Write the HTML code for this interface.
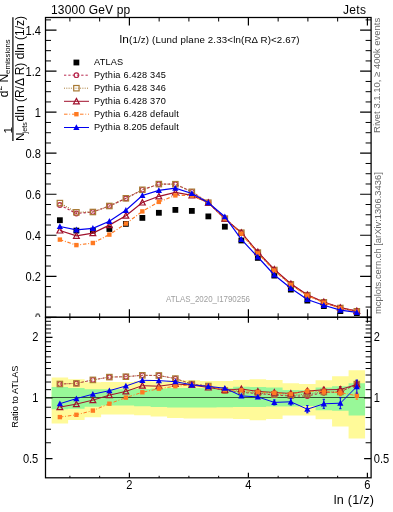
<!DOCTYPE html><html><head><meta charset="utf-8"><style>html,body{margin:0;padding:0;background:#fff;overflow:hidden}svg{display:block;will-change:transform;font-family:"Liberation Sans",sans-serif}</style></head><body><svg width="393" height="512" viewBox="0 0 393 512" >
<rect x="0" y="0" width="393" height="512" fill="#fff"/>
<defs><clipPath id="cm"><rect x="45.5" y="17.5" width="325.5" height="299.8"/></clipPath><clipPath id="cr"><rect x="45.5" y="317.3" width="325.5" height="160.5"/></clipPath></defs>
<text x="166" y="301.8" font-size="9" fill="#a0a0a0" textLength="84" lengthAdjust="spacingAndGlyphs">ATLAS_2020_I1790256</text>
<g clip-path="url(#cm)">
<rect x="56.98" y="217.30" width="5.8" height="5.8" fill="#000"/>
<rect x="73.48" y="227.70" width="5.8" height="5.8" fill="#000"/>
<rect x="89.97" y="227.70" width="5.8" height="5.8" fill="#000"/>
<rect x="106.47" y="226.10" width="5.8" height="5.8" fill="#000"/>
<rect x="122.97" y="221.00" width="5.8" height="5.8" fill="#000"/>
<rect x="139.46" y="215.00" width="5.8" height="5.8" fill="#000"/>
<rect x="155.96" y="209.90" width="5.8" height="5.8" fill="#000"/>
<rect x="172.46" y="207.00" width="5.8" height="5.8" fill="#000"/>
<rect x="188.95" y="208.00" width="5.8" height="5.8" fill="#000"/>
<rect x="205.45" y="213.50" width="5.8" height="5.8" fill="#000"/>
<rect x="221.95" y="223.80" width="5.8" height="5.8" fill="#000"/>
<rect x="238.45" y="237.60" width="5.8" height="5.8" fill="#000"/>
<rect x="254.94" y="255.00" width="5.8" height="5.8" fill="#000"/>
<rect x="271.44" y="272.70" width="5.8" height="5.8" fill="#000"/>
<rect x="287.94" y="286.70" width="5.8" height="5.8" fill="#000"/>
<rect x="304.43" y="297.70" width="5.8" height="5.8" fill="#000"/>
<rect x="320.93" y="303.20" width="5.8" height="5.8" fill="#000"/>
<rect x="337.43" y="308.20" width="5.8" height="5.8" fill="#000"/>
<rect x="353.92" y="310.20" width="5.8" height="5.8" fill="#000"/>
<polyline points="59.88,205.00 76.38,213.50 92.87,212.00 109.37,206.00 125.87,198.40 142.36,189.80 158.86,184.10 175.36,184.20 191.85,191.80 208.35,202.70 224.85,218.60 241.35,232.70 257.84,252.60 274.34,270.00 290.84,284.30 307.33,295.20 323.83,302.30 340.33,308.00 356.82,311.30" fill="none" stroke="#b8284e" stroke-width="1.2" stroke-dasharray="2.3,2"/>
<circle cx="59.88" cy="205.00" r="2.3" fill="none" stroke="#b8284e" stroke-width="1.2"/>
<circle cx="76.38" cy="213.50" r="2.3" fill="none" stroke="#b8284e" stroke-width="1.2"/>
<circle cx="92.87" cy="212.00" r="2.3" fill="none" stroke="#b8284e" stroke-width="1.2"/>
<circle cx="109.37" cy="206.00" r="2.3" fill="none" stroke="#b8284e" stroke-width="1.2"/>
<circle cx="125.87" cy="198.40" r="2.3" fill="none" stroke="#b8284e" stroke-width="1.2"/>
<circle cx="142.36" cy="189.80" r="2.3" fill="none" stroke="#b8284e" stroke-width="1.2"/>
<circle cx="158.86" cy="184.10" r="2.3" fill="none" stroke="#b8284e" stroke-width="1.2"/>
<circle cx="175.36" cy="184.20" r="2.3" fill="none" stroke="#b8284e" stroke-width="1.2"/>
<circle cx="191.85" cy="191.80" r="2.3" fill="none" stroke="#b8284e" stroke-width="1.2"/>
<circle cx="208.35" cy="202.70" r="2.3" fill="none" stroke="#b8284e" stroke-width="1.2"/>
<circle cx="224.85" cy="218.60" r="2.3" fill="none" stroke="#b8284e" stroke-width="1.2"/>
<circle cx="241.35" cy="232.70" r="2.3" fill="none" stroke="#b8284e" stroke-width="1.2"/>
<circle cx="257.84" cy="252.60" r="2.3" fill="none" stroke="#b8284e" stroke-width="1.2"/>
<circle cx="274.34" cy="270.00" r="2.3" fill="none" stroke="#b8284e" stroke-width="1.2"/>
<circle cx="290.84" cy="284.30" r="2.3" fill="none" stroke="#b8284e" stroke-width="1.2"/>
<circle cx="307.33" cy="295.20" r="2.3" fill="none" stroke="#b8284e" stroke-width="1.2"/>
<circle cx="323.83" cy="302.30" r="2.3" fill="none" stroke="#b8284e" stroke-width="1.2"/>
<circle cx="340.33" cy="308.00" r="2.3" fill="none" stroke="#b8284e" stroke-width="1.2"/>
<circle cx="356.82" cy="311.30" r="2.3" fill="none" stroke="#b8284e" stroke-width="1.2"/>
<polyline points="59.88,203.10 76.38,212.30 92.87,212.00 109.37,206.00 125.87,198.30 142.36,189.80 158.86,184.10 175.36,184.20 191.85,191.80 208.35,202.70 224.85,218.60 241.35,232.70 257.84,252.60 274.34,270.00 290.84,284.30 307.33,295.20 323.83,302.30 340.33,308.00 356.82,311.30" fill="none" stroke="#a87a35" stroke-width="1.2" stroke-dasharray="1,1.3"/>
<rect x="57.18" y="200.40" width="5.4" height="5.4" fill="none" stroke="#a87a35" stroke-width="1.2"/>
<rect x="73.68" y="209.60" width="5.4" height="5.4" fill="none" stroke="#a87a35" stroke-width="1.2"/>
<rect x="90.17" y="209.30" width="5.4" height="5.4" fill="none" stroke="#a87a35" stroke-width="1.2"/>
<rect x="106.67" y="203.30" width="5.4" height="5.4" fill="none" stroke="#a87a35" stroke-width="1.2"/>
<rect x="123.17" y="195.60" width="5.4" height="5.4" fill="none" stroke="#a87a35" stroke-width="1.2"/>
<rect x="139.66" y="187.10" width="5.4" height="5.4" fill="none" stroke="#a87a35" stroke-width="1.2"/>
<rect x="156.16" y="181.40" width="5.4" height="5.4" fill="none" stroke="#a87a35" stroke-width="1.2"/>
<rect x="172.66" y="181.50" width="5.4" height="5.4" fill="none" stroke="#a87a35" stroke-width="1.2"/>
<rect x="189.15" y="189.10" width="5.4" height="5.4" fill="none" stroke="#a87a35" stroke-width="1.2"/>
<rect x="205.65" y="200.00" width="5.4" height="5.4" fill="none" stroke="#a87a35" stroke-width="1.2"/>
<rect x="222.15" y="215.90" width="5.4" height="5.4" fill="none" stroke="#a87a35" stroke-width="1.2"/>
<rect x="238.65" y="230.00" width="5.4" height="5.4" fill="none" stroke="#a87a35" stroke-width="1.2"/>
<rect x="255.14" y="249.90" width="5.4" height="5.4" fill="none" stroke="#a87a35" stroke-width="1.2"/>
<rect x="271.64" y="267.30" width="5.4" height="5.4" fill="none" stroke="#a87a35" stroke-width="1.2"/>
<rect x="288.14" y="281.60" width="5.4" height="5.4" fill="none" stroke="#a87a35" stroke-width="1.2"/>
<rect x="304.63" y="292.50" width="5.4" height="5.4" fill="none" stroke="#a87a35" stroke-width="1.2"/>
<rect x="321.13" y="299.60" width="5.4" height="5.4" fill="none" stroke="#a87a35" stroke-width="1.2"/>
<rect x="337.63" y="305.30" width="5.4" height="5.4" fill="none" stroke="#a87a35" stroke-width="1.2"/>
<rect x="354.12" y="308.60" width="5.4" height="5.4" fill="none" stroke="#a87a35" stroke-width="1.2"/>
<polyline points="59.88,230.50 76.38,235.80 92.87,233.10 109.37,225.10 125.87,215.70 142.36,202.50 158.86,196.30 175.36,192.30 191.85,195.40 208.35,202.70 224.85,218.60 241.35,232.70 257.84,252.00 274.34,269.50 290.84,283.80 307.33,294.80 323.83,302.00 340.33,307.60 356.82,311.00" fill="none" stroke="#a0102c" stroke-width="1.2"/>
<path d="M59.88,227.60 L62.78,233.00 L56.98,233.00Z" fill="none" stroke="#a0102c" stroke-width="1.2"/>
<path d="M76.38,232.90 L79.28,238.30 L73.48,238.30Z" fill="none" stroke="#a0102c" stroke-width="1.2"/>
<path d="M92.87,230.20 L95.77,235.60 L89.97,235.60Z" fill="none" stroke="#a0102c" stroke-width="1.2"/>
<path d="M109.37,222.20 L112.27,227.60 L106.47,227.60Z" fill="none" stroke="#a0102c" stroke-width="1.2"/>
<path d="M125.87,212.80 L128.77,218.20 L122.97,218.20Z" fill="none" stroke="#a0102c" stroke-width="1.2"/>
<path d="M142.36,199.60 L145.26,205.00 L139.46,205.00Z" fill="none" stroke="#a0102c" stroke-width="1.2"/>
<path d="M158.86,193.40 L161.76,198.80 L155.96,198.80Z" fill="none" stroke="#a0102c" stroke-width="1.2"/>
<path d="M175.36,189.40 L178.26,194.80 L172.46,194.80Z" fill="none" stroke="#a0102c" stroke-width="1.2"/>
<path d="M191.85,192.50 L194.75,197.90 L188.95,197.90Z" fill="none" stroke="#a0102c" stroke-width="1.2"/>
<path d="M208.35,199.80 L211.25,205.20 L205.45,205.20Z" fill="none" stroke="#a0102c" stroke-width="1.2"/>
<path d="M224.85,215.70 L227.75,221.10 L221.95,221.10Z" fill="none" stroke="#a0102c" stroke-width="1.2"/>
<path d="M241.35,229.80 L244.25,235.20 L238.45,235.20Z" fill="none" stroke="#a0102c" stroke-width="1.2"/>
<path d="M257.84,249.10 L260.74,254.50 L254.94,254.50Z" fill="none" stroke="#a0102c" stroke-width="1.2"/>
<path d="M274.34,266.60 L277.24,272.00 L271.44,272.00Z" fill="none" stroke="#a0102c" stroke-width="1.2"/>
<path d="M290.84,280.90 L293.74,286.30 L287.94,286.30Z" fill="none" stroke="#a0102c" stroke-width="1.2"/>
<path d="M307.33,291.90 L310.23,297.30 L304.43,297.30Z" fill="none" stroke="#a0102c" stroke-width="1.2"/>
<path d="M323.83,299.10 L326.73,304.50 L320.93,304.50Z" fill="none" stroke="#a0102c" stroke-width="1.2"/>
<path d="M340.33,304.70 L343.23,310.10 L337.43,310.10Z" fill="none" stroke="#a0102c" stroke-width="1.2"/>
<path d="M356.82,308.10 L359.72,313.50 L353.92,313.50Z" fill="none" stroke="#a0102c" stroke-width="1.2"/>
<polyline points="59.88,239.60 76.38,245.10 92.87,243.00 109.37,234.60 125.87,223.60 142.36,211.40 158.86,201.90 175.36,195.40 191.85,195.50 208.35,202.70 224.85,218.60 241.35,233.70 257.84,253.40 274.34,270.60 290.84,284.80 307.33,295.60 323.83,302.70 340.33,308.30 356.82,311.50" fill="none" stroke="#ff7a22" stroke-width="1.2" stroke-dasharray="3.5,1.8,0.9,1.8"/>
<rect x="57.68" y="237.40" width="4.4" height="4.4" fill="#ff7a22"/>
<rect x="74.18" y="242.90" width="4.4" height="4.4" fill="#ff7a22"/>
<rect x="90.67" y="240.80" width="4.4" height="4.4" fill="#ff7a22"/>
<rect x="107.17" y="232.40" width="4.4" height="4.4" fill="#ff7a22"/>
<rect x="123.67" y="221.40" width="4.4" height="4.4" fill="#ff7a22"/>
<rect x="140.16" y="209.20" width="4.4" height="4.4" fill="#ff7a22"/>
<rect x="156.66" y="199.70" width="4.4" height="4.4" fill="#ff7a22"/>
<rect x="173.16" y="193.20" width="4.4" height="4.4" fill="#ff7a22"/>
<rect x="189.65" y="193.30" width="4.4" height="4.4" fill="#ff7a22"/>
<rect x="206.15" y="200.50" width="4.4" height="4.4" fill="#ff7a22"/>
<rect x="222.65" y="216.40" width="4.4" height="4.4" fill="#ff7a22"/>
<rect x="239.15" y="231.50" width="4.4" height="4.4" fill="#ff7a22"/>
<rect x="255.64" y="251.20" width="4.4" height="4.4" fill="#ff7a22"/>
<rect x="272.14" y="268.40" width="4.4" height="4.4" fill="#ff7a22"/>
<rect x="288.64" y="282.60" width="4.4" height="4.4" fill="#ff7a22"/>
<rect x="305.13" y="293.40" width="4.4" height="4.4" fill="#ff7a22"/>
<rect x="321.63" y="300.50" width="4.4" height="4.4" fill="#ff7a22"/>
<rect x="338.13" y="306.10" width="4.4" height="4.4" fill="#ff7a22"/>
<rect x="354.62" y="309.30" width="4.4" height="4.4" fill="#ff7a22"/>
<polyline points="59.88,226.50 76.38,229.80 92.87,228.30 109.37,221.30 125.87,210.30 142.36,195.50 158.86,190.40 175.36,188.20 191.85,193.50 208.35,202.70 224.85,216.70 241.35,239.30 257.84,257.00 274.34,275.00 290.84,288.30 307.33,299.50 323.83,305.30 340.33,310.20 356.82,312.30" fill="none" stroke="#0000f0" stroke-width="1.2"/>
<path d="M59.88,223.30 L62.98,229.10 L56.78,229.10Z" fill="#0000f0"/>
<path d="M76.38,226.60 L79.48,232.40 L73.28,232.40Z" fill="#0000f0"/>
<path d="M92.87,225.10 L95.97,230.90 L89.77,230.90Z" fill="#0000f0"/>
<path d="M109.37,218.10 L112.47,223.90 L106.27,223.90Z" fill="#0000f0"/>
<path d="M125.87,207.10 L128.97,212.90 L122.77,212.90Z" fill="#0000f0"/>
<path d="M142.36,192.30 L145.46,198.10 L139.26,198.10Z" fill="#0000f0"/>
<path d="M158.86,187.20 L161.96,193.00 L155.76,193.00Z" fill="#0000f0"/>
<path d="M175.36,185.00 L178.46,190.80 L172.26,190.80Z" fill="#0000f0"/>
<path d="M191.85,190.30 L194.95,196.10 L188.75,196.10Z" fill="#0000f0"/>
<path d="M208.35,199.50 L211.45,205.30 L205.25,205.30Z" fill="#0000f0"/>
<path d="M224.85,213.50 L227.95,219.30 L221.75,219.30Z" fill="#0000f0"/>
<path d="M241.35,236.10 L244.45,241.90 L238.25,241.90Z" fill="#0000f0"/>
<path d="M257.84,253.80 L260.94,259.60 L254.74,259.60Z" fill="#0000f0"/>
<path d="M274.34,271.80 L277.44,277.60 L271.24,277.60Z" fill="#0000f0"/>
<path d="M290.84,285.10 L293.94,290.90 L287.74,290.90Z" fill="#0000f0"/>
<path d="M307.33,296.30 L310.43,302.10 L304.23,302.10Z" fill="#0000f0"/>
<path d="M323.83,302.10 L326.93,307.90 L320.73,307.90Z" fill="#0000f0"/>
<path d="M340.33,307.00 L343.43,312.80 L337.23,312.80Z" fill="#0000f0"/>
<path d="M356.82,309.10 L359.92,314.90 L353.72,314.90Z" fill="#0000f0"/>
</g>
<rect x="45.5" y="317.3" width="325.5" height="160.5" fill="#fff"/>
<g clip-path="url(#cr)">
<path d="M51.63,377.50H68.13V379.20H84.62V382.20H101.12V382.00H117.62V382.00H134.12V381.00H150.61V381.50H167.11V380.50H183.61V380.30H200.10V381.00H216.60V381.00H233.10V380.00H249.59V379.30H266.09V380.00H282.59V383.30H299.08V383.90H315.58V380.20H332.08V376.30H348.58V370.30H365.07V438.40H348.58V426.40H332.08V419.30H315.58V415.40H299.08V415.40H282.59V419.00H266.09V420.20H249.59V419.00H233.10V418.40H216.60V418.40H200.10V418.40H183.61V418.10H167.11V416.40H150.61V415.20H134.12V414.40H117.62V414.60H101.12V417.20H84.62V420.00H68.13V423.40H51.63Z" fill="#fffa99"/>
<path d="M51.63,387.10H68.13V387.90H84.62V389.30H101.12V389.30H117.62V389.30H134.12V389.10H150.61V388.50H167.11V388.00H183.61V387.90H200.10V388.30H216.60V388.30H233.10V386.70H249.59V387.00H266.09V387.50H282.59V390.00H299.08V390.30H315.58V387.60H332.08V386.20H348.58V383.30H365.07V415.60H348.58V410.70H332.08V410.20H315.58V406.00H299.08V406.40H282.59V406.40H266.09V407.00H249.59V407.00H233.10V407.20H216.60V407.40H200.10V407.40H183.61V407.50H167.11V406.90H150.61V406.30H134.12V405.60H117.62V405.60H101.12V406.70H84.62V408.70H68.13V409.30H51.63Z" fill="#98f898"/>
<line x1="45.5" y1="397.5" x2="371" y2="397.5" stroke="#355535" stroke-width="1"/>
<path d="M274.34,394.00V396.00M273.14,394.00H275.54M273.14,396.00H275.54M290.84,394.50V397.50M289.64,394.50H292.04M289.64,397.50H292.04M307.33,394.00V398.00M306.13,394.00H308.53M306.13,398.00H308.53M323.83,390.00V395.00M322.63,390.00H325.03M322.63,395.00H325.03M340.33,389.00V395.00M339.13,389.00H341.53M339.13,395.00H341.53M356.82,380.60V387.60M355.62,380.60H358.02M355.62,387.60H358.02" stroke="#b8284e" stroke-width="1" fill="none"/>
<polyline points="59.88,384.00 76.38,383.40 92.87,379.90 109.37,377.10 125.87,376.70 142.36,375.30 158.86,375.50 175.36,378.60 191.85,384.00 208.35,386.00 224.85,390.90 241.35,392.50 257.84,393.50 274.34,395.00 290.84,396.00 307.33,396.00 323.83,392.50 340.33,392.00 356.82,384.10" fill="none" stroke="#b8284e" stroke-width="1.0" stroke-dasharray="2.3,2"/>
<circle cx="59.88" cy="384.00" r="2.3" fill="none" stroke="#b8284e" stroke-width="1.2"/>
<circle cx="76.38" cy="383.40" r="2.3" fill="none" stroke="#b8284e" stroke-width="1.2"/>
<circle cx="92.87" cy="379.90" r="2.3" fill="none" stroke="#b8284e" stroke-width="1.2"/>
<circle cx="109.37" cy="377.10" r="2.3" fill="none" stroke="#b8284e" stroke-width="1.2"/>
<circle cx="125.87" cy="376.70" r="2.3" fill="none" stroke="#b8284e" stroke-width="1.2"/>
<circle cx="142.36" cy="375.30" r="2.3" fill="none" stroke="#b8284e" stroke-width="1.2"/>
<circle cx="158.86" cy="375.50" r="2.3" fill="none" stroke="#b8284e" stroke-width="1.2"/>
<circle cx="175.36" cy="378.60" r="2.3" fill="none" stroke="#b8284e" stroke-width="1.2"/>
<circle cx="191.85" cy="384.00" r="2.3" fill="none" stroke="#b8284e" stroke-width="1.2"/>
<circle cx="208.35" cy="386.00" r="2.3" fill="none" stroke="#b8284e" stroke-width="1.2"/>
<circle cx="224.85" cy="390.90" r="2.3" fill="none" stroke="#b8284e" stroke-width="1.2"/>
<circle cx="241.35" cy="392.50" r="2.3" fill="none" stroke="#b8284e" stroke-width="1.2"/>
<circle cx="257.84" cy="393.50" r="2.3" fill="none" stroke="#b8284e" stroke-width="1.2"/>
<circle cx="274.34" cy="395.00" r="2.3" fill="none" stroke="#b8284e" stroke-width="1.2"/>
<circle cx="290.84" cy="396.00" r="2.3" fill="none" stroke="#b8284e" stroke-width="1.2"/>
<circle cx="307.33" cy="396.00" r="2.3" fill="none" stroke="#b8284e" stroke-width="1.2"/>
<circle cx="323.83" cy="392.50" r="2.3" fill="none" stroke="#b8284e" stroke-width="1.2"/>
<circle cx="340.33" cy="392.00" r="2.3" fill="none" stroke="#b8284e" stroke-width="1.2"/>
<circle cx="356.82" cy="384.10" r="2.3" fill="none" stroke="#b8284e" stroke-width="1.2"/>
<path d="M274.34,393.50V395.50M273.14,393.50H275.54M273.14,395.50H275.54M290.84,394.00V397.00M289.64,394.00H292.04M289.64,397.00H292.04M307.33,392.00V396.00M306.13,392.00H308.53M306.13,396.00H308.53M323.83,389.50V394.50M322.63,389.50H325.03M322.63,394.50H325.03M340.33,389.00V395.00M339.13,389.00H341.53M339.13,395.00H341.53M356.82,380.60V387.60M355.62,380.60H358.02M355.62,387.60H358.02" stroke="#a87a35" stroke-width="1" fill="none"/>
<polyline points="59.88,384.00 76.38,383.40 92.87,379.90 109.37,377.10 125.87,376.70 142.36,375.30 158.86,375.50 175.36,378.60 191.85,384.00 208.35,386.00 224.85,390.50 241.35,392.00 257.84,393.00 274.34,394.50 290.84,395.50 307.33,394.00 323.83,392.00 340.33,392.00 356.82,384.10" fill="none" stroke="#a87a35" stroke-width="1.0" stroke-dasharray="1,1.3"/>
<rect x="57.18" y="381.30" width="5.4" height="5.4" fill="none" stroke="#a87a35" stroke-width="1.2"/>
<rect x="73.68" y="380.70" width="5.4" height="5.4" fill="none" stroke="#a87a35" stroke-width="1.2"/>
<rect x="90.17" y="377.20" width="5.4" height="5.4" fill="none" stroke="#a87a35" stroke-width="1.2"/>
<rect x="106.67" y="374.40" width="5.4" height="5.4" fill="none" stroke="#a87a35" stroke-width="1.2"/>
<rect x="123.17" y="374.00" width="5.4" height="5.4" fill="none" stroke="#a87a35" stroke-width="1.2"/>
<rect x="139.66" y="372.60" width="5.4" height="5.4" fill="none" stroke="#a87a35" stroke-width="1.2"/>
<rect x="156.16" y="372.80" width="5.4" height="5.4" fill="none" stroke="#a87a35" stroke-width="1.2"/>
<rect x="172.66" y="375.90" width="5.4" height="5.4" fill="none" stroke="#a87a35" stroke-width="1.2"/>
<rect x="189.15" y="381.30" width="5.4" height="5.4" fill="none" stroke="#a87a35" stroke-width="1.2"/>
<rect x="205.65" y="383.30" width="5.4" height="5.4" fill="none" stroke="#a87a35" stroke-width="1.2"/>
<rect x="222.15" y="387.80" width="5.4" height="5.4" fill="none" stroke="#a87a35" stroke-width="1.2"/>
<rect x="238.65" y="389.30" width="5.4" height="5.4" fill="none" stroke="#a87a35" stroke-width="1.2"/>
<rect x="255.14" y="390.30" width="5.4" height="5.4" fill="none" stroke="#a87a35" stroke-width="1.2"/>
<rect x="271.64" y="391.80" width="5.4" height="5.4" fill="none" stroke="#a87a35" stroke-width="1.2"/>
<rect x="288.14" y="392.80" width="5.4" height="5.4" fill="none" stroke="#a87a35" stroke-width="1.2"/>
<rect x="304.63" y="391.30" width="5.4" height="5.4" fill="none" stroke="#a87a35" stroke-width="1.2"/>
<rect x="321.13" y="389.30" width="5.4" height="5.4" fill="none" stroke="#a87a35" stroke-width="1.2"/>
<rect x="337.63" y="389.30" width="5.4" height="5.4" fill="none" stroke="#a87a35" stroke-width="1.2"/>
<rect x="354.12" y="381.40" width="5.4" height="5.4" fill="none" stroke="#a87a35" stroke-width="1.2"/>
<path d="M274.34,391.50V393.50M273.14,391.50H275.54M273.14,393.50H275.54M290.84,392.00V395.00M289.64,392.00H292.04M289.64,395.00H292.04M307.33,389.00V393.00M306.13,389.00H308.53M306.13,393.00H308.53M323.83,387.30V392.30M322.63,387.30H325.03M322.63,392.30H325.03M340.33,386.50V392.50M339.13,386.50H341.53M339.13,392.50H341.53M356.82,381.00V388.00M355.62,381.00H358.02M355.62,388.00H358.02" stroke="#a0102c" stroke-width="1" fill="none"/>
<polyline points="59.88,407.10 76.38,404.10 92.87,400.10 109.37,395.20 125.87,391.40 142.36,385.70 158.86,386.20 175.36,384.00 191.85,385.00 208.35,387.50 224.85,390.00 241.35,389.00 257.84,391.40 274.34,392.50 290.84,393.50 307.33,391.00 323.83,389.80 340.33,389.50 356.82,384.50" fill="none" stroke="#a0102c" stroke-width="1.0"/>
<path d="M59.88,404.20 L62.78,409.60 L56.98,409.60Z" fill="none" stroke="#a0102c" stroke-width="1.2"/>
<path d="M76.38,401.20 L79.28,406.60 L73.48,406.60Z" fill="none" stroke="#a0102c" stroke-width="1.2"/>
<path d="M92.87,397.20 L95.77,402.60 L89.97,402.60Z" fill="none" stroke="#a0102c" stroke-width="1.2"/>
<path d="M109.37,392.30 L112.27,397.70 L106.47,397.70Z" fill="none" stroke="#a0102c" stroke-width="1.2"/>
<path d="M125.87,388.50 L128.77,393.90 L122.97,393.90Z" fill="none" stroke="#a0102c" stroke-width="1.2"/>
<path d="M142.36,382.80 L145.26,388.20 L139.46,388.20Z" fill="none" stroke="#a0102c" stroke-width="1.2"/>
<path d="M158.86,383.30 L161.76,388.70 L155.96,388.70Z" fill="none" stroke="#a0102c" stroke-width="1.2"/>
<path d="M175.36,381.10 L178.26,386.50 L172.46,386.50Z" fill="none" stroke="#a0102c" stroke-width="1.2"/>
<path d="M191.85,382.10 L194.75,387.50 L188.95,387.50Z" fill="none" stroke="#a0102c" stroke-width="1.2"/>
<path d="M208.35,384.60 L211.25,390.00 L205.45,390.00Z" fill="none" stroke="#a0102c" stroke-width="1.2"/>
<path d="M224.85,387.10 L227.75,392.50 L221.95,392.50Z" fill="none" stroke="#a0102c" stroke-width="1.2"/>
<path d="M241.35,386.10 L244.25,391.50 L238.45,391.50Z" fill="none" stroke="#a0102c" stroke-width="1.2"/>
<path d="M257.84,388.50 L260.74,393.90 L254.94,393.90Z" fill="none" stroke="#a0102c" stroke-width="1.2"/>
<path d="M274.34,389.60 L277.24,395.00 L271.44,395.00Z" fill="none" stroke="#a0102c" stroke-width="1.2"/>
<path d="M290.84,390.60 L293.74,396.00 L287.94,396.00Z" fill="none" stroke="#a0102c" stroke-width="1.2"/>
<path d="M307.33,388.10 L310.23,393.50 L304.43,393.50Z" fill="none" stroke="#a0102c" stroke-width="1.2"/>
<path d="M323.83,386.90 L326.73,392.30 L320.93,392.30Z" fill="none" stroke="#a0102c" stroke-width="1.2"/>
<path d="M340.33,386.60 L343.23,392.00 L337.43,392.00Z" fill="none" stroke="#a0102c" stroke-width="1.2"/>
<path d="M356.82,381.60 L359.72,387.00 L353.92,387.00Z" fill="none" stroke="#a0102c" stroke-width="1.2"/>
<path d="M274.34,391.80V393.80M273.14,391.80H275.54M273.14,393.80H275.54M290.84,392.50V395.50M289.64,392.50H292.04M289.64,395.50H292.04M307.33,389.10V393.10M306.13,389.10H308.53M306.13,393.10H308.53M323.83,389.10V394.10M322.63,389.10H325.03M322.63,394.10H325.03M340.33,389.70V395.70M339.13,389.70H341.53M339.13,395.70H341.53M356.82,392.20V399.20M355.62,392.20H358.02M355.62,399.20H358.02" stroke="#ff7a22" stroke-width="1" fill="none"/>
<polyline points="59.88,417.10 76.38,414.80 92.87,410.60 109.37,403.70 125.87,397.60 142.36,392.30 158.86,388.70 175.36,386.20 191.85,385.00 208.35,386.00 224.85,390.20 241.35,390.30 257.84,392.00 274.34,392.80 290.84,394.00 307.33,391.10 323.83,391.60 340.33,392.70 356.82,395.70" fill="none" stroke="#ff7a22" stroke-width="1.0" stroke-dasharray="3.5,1.8,0.9,1.8"/>
<rect x="57.68" y="414.90" width="4.4" height="4.4" fill="#ff7a22"/>
<rect x="74.18" y="412.60" width="4.4" height="4.4" fill="#ff7a22"/>
<rect x="90.67" y="408.40" width="4.4" height="4.4" fill="#ff7a22"/>
<rect x="107.17" y="401.50" width="4.4" height="4.4" fill="#ff7a22"/>
<rect x="123.67" y="395.40" width="4.4" height="4.4" fill="#ff7a22"/>
<rect x="140.16" y="390.10" width="4.4" height="4.4" fill="#ff7a22"/>
<rect x="156.66" y="386.50" width="4.4" height="4.4" fill="#ff7a22"/>
<rect x="173.16" y="384.00" width="4.4" height="4.4" fill="#ff7a22"/>
<rect x="189.65" y="382.80" width="4.4" height="4.4" fill="#ff7a22"/>
<rect x="206.15" y="383.80" width="4.4" height="4.4" fill="#ff7a22"/>
<rect x="222.65" y="388.00" width="4.4" height="4.4" fill="#ff7a22"/>
<rect x="239.15" y="388.10" width="4.4" height="4.4" fill="#ff7a22"/>
<rect x="255.64" y="389.80" width="4.4" height="4.4" fill="#ff7a22"/>
<rect x="272.14" y="390.60" width="4.4" height="4.4" fill="#ff7a22"/>
<rect x="288.64" y="391.80" width="4.4" height="4.4" fill="#ff7a22"/>
<rect x="305.13" y="388.90" width="4.4" height="4.4" fill="#ff7a22"/>
<rect x="321.63" y="389.40" width="4.4" height="4.4" fill="#ff7a22"/>
<rect x="338.13" y="390.50" width="4.4" height="4.4" fill="#ff7a22"/>
<rect x="354.62" y="393.50" width="4.4" height="4.4" fill="#ff7a22"/>
<path d="M274.34,399.90V404.90M273.14,399.90H275.54M273.14,404.90H275.54M290.84,398.60V405.00M289.64,398.60H292.04M289.64,405.00H292.04M307.33,405.60V412.80M306.13,405.60H308.53M306.13,412.80H308.53M323.83,399.30V408.30M322.63,399.30H325.03M322.63,408.30H325.03M340.33,397.70V408.70M339.13,397.70H341.53M339.13,408.70H341.53M356.82,380.00V393.20M355.62,380.00H358.02M355.62,393.20H358.02" stroke="#0000f0" stroke-width="1" fill="none"/>
<polyline points="59.88,403.70 76.38,398.60 92.87,394.20 109.37,390.70 125.87,386.00 142.36,380.30 158.86,380.60 175.36,381.70 191.85,384.80 208.35,386.40 224.85,388.20 241.35,395.90 257.84,396.90 274.34,402.40 290.84,401.80 307.33,409.20 323.83,403.80 340.33,403.20 356.82,386.60" fill="none" stroke="#0000f0" stroke-width="1.0"/>
<path d="M59.88,400.50 L62.98,406.30 L56.78,406.30Z" fill="#0000f0"/>
<path d="M76.38,395.40 L79.48,401.20 L73.28,401.20Z" fill="#0000f0"/>
<path d="M92.87,391.00 L95.97,396.80 L89.77,396.80Z" fill="#0000f0"/>
<path d="M109.37,387.50 L112.47,393.30 L106.27,393.30Z" fill="#0000f0"/>
<path d="M125.87,382.80 L128.97,388.60 L122.77,388.60Z" fill="#0000f0"/>
<path d="M142.36,377.10 L145.46,382.90 L139.26,382.90Z" fill="#0000f0"/>
<path d="M158.86,377.40 L161.96,383.20 L155.76,383.20Z" fill="#0000f0"/>
<path d="M175.36,378.50 L178.46,384.30 L172.26,384.30Z" fill="#0000f0"/>
<path d="M191.85,381.60 L194.95,387.40 L188.75,387.40Z" fill="#0000f0"/>
<path d="M208.35,383.20 L211.45,389.00 L205.25,389.00Z" fill="#0000f0"/>
<path d="M224.85,385.00 L227.95,390.80 L221.75,390.80Z" fill="#0000f0"/>
<path d="M241.35,392.70 L244.45,398.50 L238.25,398.50Z" fill="#0000f0"/>
<path d="M257.84,393.70 L260.94,399.50 L254.74,399.50Z" fill="#0000f0"/>
<path d="M274.34,399.20 L277.44,405.00 L271.24,405.00Z" fill="#0000f0"/>
<path d="M290.84,398.60 L293.94,404.40 L287.74,404.40Z" fill="#0000f0"/>
<path d="M307.33,406.00 L310.43,411.80 L304.23,411.80Z" fill="#0000f0"/>
<path d="M323.83,400.60 L326.93,406.40 L320.73,406.40Z" fill="#0000f0"/>
<path d="M340.33,400.00 L343.43,405.80 L337.23,405.80Z" fill="#0000f0"/>
<path d="M356.82,383.40 L359.92,389.20 L353.72,389.20Z" fill="#0000f0"/>
</g>
<path d="M45.50,317.30L56.50,317.30 M371.10,317.30L360.10,317.30 M45.50,276.28L56.50,276.28 M371.10,276.28L360.10,276.28 M45.50,235.26L56.50,235.26 M371.10,235.26L360.10,235.26 M45.50,194.24L56.50,194.24 M371.10,194.24L360.10,194.24 M45.50,153.22L56.50,153.22 M371.10,153.22L360.10,153.22 M45.50,112.20L56.50,112.20 M371.10,112.20L360.10,112.20 M45.50,71.18L56.50,71.18 M371.10,71.18L360.10,71.18 M45.50,30.16L56.50,30.16 M371.10,30.16L360.10,30.16 M129.40,17.50L129.40,25.50 M129.40,317.30L129.40,309.30 M248.40,17.50L248.40,25.50 M248.40,317.30L248.40,309.30 M367.40,17.50L367.40,25.50 M367.40,317.30L367.40,309.30 M45.50,458.72L52.50,458.72 M371.10,458.72L364.10,458.72 M45.50,398.00L52.50,398.00 M371.10,398.00L364.10,398.00 M45.50,337.28L52.50,337.28 M371.10,337.28L364.10,337.28 M129.40,317.30L129.40,322.80 M129.40,477.80L129.40,472.80 M248.40,317.30L248.40,322.80 M248.40,477.80L248.40,472.80 M367.40,317.30L367.40,322.80 M367.40,477.80L367.40,472.80" stroke="#000" stroke-width="1.2" fill="none"/>
<path d="M45.50,307.05L51.00,307.05 M371.10,307.05L365.60,307.05 M45.50,296.79L51.00,296.79 M371.10,296.79L365.60,296.79 M45.50,286.54L51.00,286.54 M371.10,286.54L365.60,286.54 M45.50,266.03L51.00,266.03 M371.10,266.03L365.60,266.03 M45.50,255.77L51.00,255.77 M371.10,255.77L365.60,255.77 M45.50,245.51L51.00,245.51 M371.10,245.51L365.60,245.51 M45.50,225.00L51.00,225.00 M371.10,225.00L365.60,225.00 M45.50,214.75L51.00,214.75 M371.10,214.75L365.60,214.75 M45.50,204.50L51.00,204.50 M371.10,204.50L365.60,204.50 M45.50,183.99L51.00,183.99 M371.10,183.99L365.60,183.99 M45.50,173.73L51.00,173.73 M371.10,173.73L365.60,173.73 M45.50,163.48L51.00,163.48 M371.10,163.48L365.60,163.48 M45.50,142.97L51.00,142.97 M371.10,142.97L365.60,142.97 M45.50,132.71L51.00,132.71 M371.10,132.71L365.60,132.71 M45.50,122.46L51.00,122.46 M371.10,122.46L365.60,122.46 M45.50,101.95L51.00,101.95 M371.10,101.95L365.60,101.95 M45.50,91.69L51.00,91.69 M371.10,91.69L365.60,91.69 M45.50,81.44L51.00,81.44 M371.10,81.44L365.60,81.44 M45.50,60.93L51.00,60.93 M371.10,60.93L365.60,60.93 M45.50,50.67L51.00,50.67 M371.10,50.67L365.60,50.67 M45.50,40.42L51.00,40.42 M371.10,40.42L365.60,40.42 M45.50,19.90L51.00,19.90 M371.10,19.90L365.60,19.90 M69.90,17.50L69.90,21.50 M69.90,317.30L69.90,313.30 M99.65,17.50L99.65,21.50 M99.65,317.30L99.65,313.30 M159.15,17.50L159.15,21.50 M159.15,317.30L159.15,313.30 M188.90,17.50L188.90,21.50 M188.90,317.30L188.90,313.30 M218.65,17.50L218.65,21.50 M218.65,317.30L218.65,313.30 M278.15,17.50L278.15,21.50 M278.15,317.30L278.15,313.30 M307.90,17.50L307.90,21.50 M307.90,317.30L307.90,313.30 M337.65,17.50L337.65,21.50 M337.65,317.30L337.65,313.30 M45.50,442.75L51.00,442.75 M371.10,442.75L365.60,442.75 M45.50,429.24L51.00,429.24 M371.10,429.24L365.60,429.24 M45.50,417.55L51.00,417.55 M371.10,417.55L365.60,417.55 M45.50,407.23L51.00,407.23 M371.10,407.23L365.60,407.23 M45.50,389.65L51.00,389.65 M371.10,389.65L365.60,389.65 M45.50,382.03L51.00,382.03 M371.10,382.03L365.60,382.03 M45.50,375.02L51.00,375.02 M371.10,375.02L365.60,375.02 M45.50,368.53L51.00,368.53 M371.10,368.53L365.60,368.53 M45.50,362.48L51.00,362.48 M371.10,362.48L365.60,362.48 M45.50,356.83L51.00,356.83 M371.10,356.83L365.60,356.83 M45.50,351.52L51.00,351.52 M371.10,351.52L365.60,351.52 M45.50,346.51L51.00,346.51 M371.10,346.51L365.60,346.51 M45.50,341.78L51.00,341.78 M371.10,341.78L365.60,341.78 M45.50,333.01L51.00,333.01 M371.10,333.01L365.60,333.01 M45.50,328.93L51.00,328.93 M371.10,328.93L365.60,328.93 M45.50,325.04L51.00,325.04 M371.10,325.04L365.60,325.04 M45.50,321.31L51.00,321.31 M371.10,321.31L365.60,321.31 M45.50,317.74L51.00,317.74 M371.10,317.74L365.60,317.74 M69.90,317.30L69.90,319.80 M69.90,477.80L69.90,475.80 M99.65,317.30L99.65,319.80 M99.65,477.80L99.65,475.80 M159.15,317.30L159.15,319.80 M159.15,477.80L159.15,475.80 M188.90,317.30L188.90,319.80 M188.90,477.80L188.90,475.80 M218.65,317.30L218.65,319.80 M218.65,477.80L218.65,475.80 M278.15,317.30L278.15,319.80 M278.15,477.80L278.15,475.80 M307.90,317.30L307.90,319.80 M307.90,477.80L307.90,475.80 M337.65,317.30L337.65,319.80 M337.65,477.80L337.65,475.80" stroke="#000" stroke-width="1.0" fill="none"/>
<rect x="45.5" y="17.5" width="325.6" height="299.8" fill="none" stroke="#000" stroke-width="1.25"/>
<rect x="45.5" y="317.3" width="325.6" height="160.5" fill="none" stroke="#000" stroke-width="1.25"/>
<text transform="translate(40.90,281.48) scale(0.86,1)" font-size="12.9" text-anchor="end">0.2</text>
<text transform="translate(40.90,240.46) scale(0.86,1)" font-size="12.9" text-anchor="end">0.4</text>
<text transform="translate(40.90,199.44) scale(0.86,1)" font-size="12.9" text-anchor="end">0.6</text>
<text transform="translate(40.90,158.42) scale(0.86,1)" font-size="12.9" text-anchor="end">0.8</text>
<text transform="translate(40.90,117.40) scale(0.86,1)" font-size="12.9" text-anchor="end">1</text>
<text transform="translate(40.90,76.38) scale(0.86,1)" font-size="12.9" text-anchor="end">1.2</text>
<text transform="translate(40.90,35.36) scale(0.86,1)" font-size="12.9" text-anchor="end">1.4</text>
<svg x="0" y="0" width="393" height="317"><text transform="translate(40.90,322.50) scale(0.86,1)" font-size="12.9" text-anchor="end">0</text></svg>
<text transform="translate(38.30,341.08) scale(0.86,1)" font-size="12.9" text-anchor="end">2</text>
<text transform="translate(373.80,341.08) scale(0.86,1)" font-size="12.9" text-anchor="start">2</text>
<text transform="translate(38.30,401.80) scale(0.86,1)" font-size="12.9" text-anchor="end">1</text>
<text transform="translate(373.80,401.80) scale(0.86,1)" font-size="12.9" text-anchor="start">1</text>
<text transform="translate(38.30,462.52) scale(0.86,1)" font-size="12.9" text-anchor="end">0.5</text>
<text transform="translate(373.80,462.52) scale(0.86,1)" font-size="12.9" text-anchor="start">0.5</text>
<text transform="translate(129.40,489.30) scale(0.86,1)" font-size="12.9" text-anchor="middle">2</text>
<text transform="translate(248.40,489.30) scale(0.86,1)" font-size="12.9" text-anchor="middle">4</text>
<text transform="translate(367.40,489.30) scale(0.86,1)" font-size="12.9" text-anchor="middle">6</text>
<text transform="translate(374.2,503.7)" font-size="12.6" letter-spacing="0.25" text-anchor="end">ln (1/z)</text>
<text x="51" y="13.7" font-size="12" letter-spacing="0.17">13000 GeV pp</text>
<text x="343" y="13.9" font-size="12" letter-spacing="0.3">Jets</text>
<text x="119.5" y="43.1" font-size="11.8" letter-spacing="0.16">ln<tspan font-size="9.7">(1/z) (Lund plane 2.33&lt;ln(R&#916; R)&lt;2.67)</tspan></text>
<text transform="translate(94,65.30) scale(0.93,1)" font-size="9.9" letter-spacing="0.2">ATLAS</text>
<text transform="translate(94,78.10) scale(0.93,1)" font-size="9.9" letter-spacing="0.2">Pythia 6.428 345</text>
<text transform="translate(94,91.00) scale(0.93,1)" font-size="9.9" letter-spacing="0.2">Pythia 6.428 346</text>
<text transform="translate(94,103.90) scale(0.93,1)" font-size="9.9" letter-spacing="0.2">Pythia 6.428 370</text>
<text transform="translate(94,116.90) scale(0.93,1)" font-size="9.9" letter-spacing="0.2">Pythia 6.428 default</text>
<text transform="translate(94,129.90) scale(0.93,1)" font-size="9.9" letter-spacing="0.2">Pythia 8.205 default</text>
<rect x="73.50" y="59.60" width="5.8" height="5.8" fill="#000"/>
<polyline points="64.00,75.20 89.00,75.20" fill="none" stroke="#b8284e" stroke-width="1.0" stroke-dasharray="2.3,2"/>
<circle cx="76.40" cy="75.20" r="2.3" fill="none" stroke="#b8284e" stroke-width="1.2"/>
<polyline points="64.00,88.20 89.00,88.20" fill="none" stroke="#a87a35" stroke-width="1.0" stroke-dasharray="1,1.3"/>
<rect x="73.70" y="85.50" width="5.4" height="5.4" fill="none" stroke="#a87a35" stroke-width="1.2"/>
<polyline points="64.00,101.30 89.00,101.30" fill="none" stroke="#a0102c" stroke-width="1.0"/>
<path d="M76.40,98.40 L79.30,103.80 L73.50,103.80Z" fill="none" stroke="#a0102c" stroke-width="1.2"/>
<polyline points="64.00,114.20 89.00,114.20" fill="none" stroke="#ff7a22" stroke-width="1.0" stroke-dasharray="3.5,1.8,0.9,1.8"/>
<rect x="74.20" y="112.00" width="4.4" height="4.4" fill="#ff7a22"/>
<polyline points="64.00,127.50 89.00,127.50" fill="none" stroke="#0000f0" stroke-width="1.0"/>
<path d="M76.40,124.30 L79.50,130.10 L73.30,130.10Z" fill="#0000f0"/>
<text transform="translate(380.3,132.9) rotate(-90)" font-size="9.5" fill="#686868">Rivet 3.1.10, &#8805; 400k events</text>
<text transform="translate(381.1,314.0) rotate(-90)" font-size="9.4" fill="#686868">mcplots.cern.ch [arXiv:1306.3436]</text>
<text transform="translate(18.2,427.7) rotate(-90)" font-size="9.2">Ratio to ATLAS</text>
<line x1="12.9" y1="17.2" x2="12.9" y2="141" stroke="#000" stroke-width="1.2"/>
<text transform="translate(11.8,133.6) rotate(-90)" font-size="11.7">1</text>
<text transform="translate(24.2,141) rotate(-90)" font-size="11.7">N<tspan font-size="7.2" dx="-0.9" dy="2.6">jets</tspan></text>
<text transform="translate(24.3,121.4) rotate(-90)" font-size="12">dln (R/&#916; R) dln (1/z)</text>
<text transform="translate(7.6,97.2) rotate(-90)" font-size="12">d<tspan font-size="8.2" dy="-5.5">2</tspan><tspan dy="5.5"> N</tspan><tspan font-size="7.8" dy="2.7">emissions</tspan></text>
</svg></body></html>
